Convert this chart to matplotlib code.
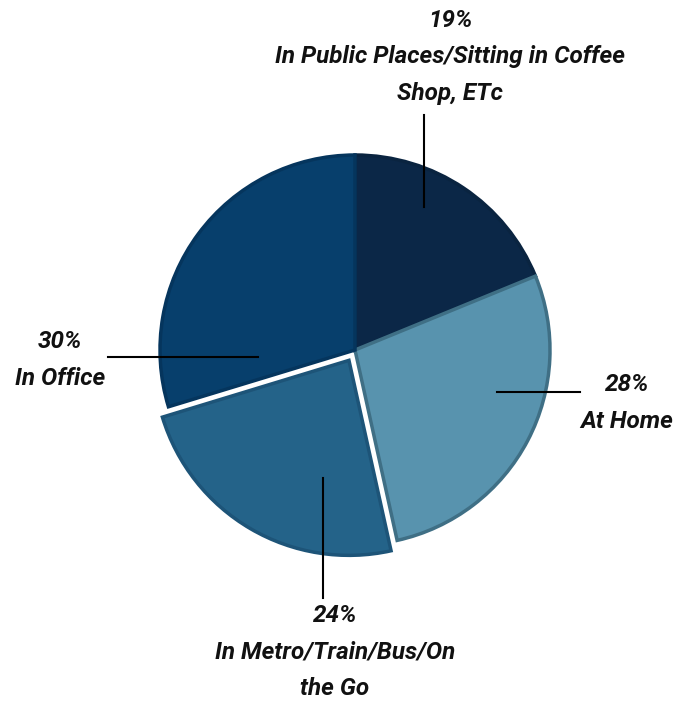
import matplotlib
matplotlib.use("Agg")
import matplotlib.pyplot as plt

plt.rcParams['font.family'] = ['Roboto', 'DejaVu Sans']

# Data
categories = ["In Public Places/Sitting in Coffee\nShop, ETc", "At Home",
              "In Metro/Train/Bus/On\nthe Go", "In Office"]
shares = [19, 28, 24, 30]
colors = ["#0b2747", "#5893ae", "#246389", "#073f6c"]
edges = ["#0a2440", "#3f6f85", "#1d5478", "#05355d"]

W, H = 675, 702
fig = plt.figure(figsize=(W / 100, H / 100), dpi=100)
ax = fig.add_axes([0, 0, 1, 1])

# explode is an absolute offset here (axes work in pixel units)
wedges, _ = ax.pie(shares, colors=colors, explode=[0, 0, 12, 0], startangle=90,
                   counterclock=False, center=(355, H - 350), radius=195,
                   wedgeprops=dict(linewidth=2.5))
for w, ec in zip(wedges, edges):
    w.set_edgecolor(ec)

# pie() resets the limits, so fix the pixel frame afterwards
ax.set_xlim(0, W)
ax.set_ylim(0, H)
ax.set_aspect('equal')
ax.axis('off')

# Label layout: text centre, leader line (x0, y0, x1, y1) in pixel space
label_pos = [(450, 57), (627, 403), (335, 652), (60, 360)]
leaders = [(424, 115, 424, 207), (497, 392, 580, 392),
           (323, 478, 323, 598), (108, 357, 258, 357)]

for name, val, (tx, ty), (x0, y0, x1, y1) in zip(categories, shares, label_pos, leaders):
    ax.plot([x0, x1], [H - y0, H - y1], color="black", lw=1.5)
    ax.text(tx, H - ty, f"{val}%\n{name}", ha="center", va="center",
            fontsize=17.5, fontweight="bold", fontstyle="italic",
            linespacing=1.75, color="#111111")

fig.savefig("out.png", dpi=100)
